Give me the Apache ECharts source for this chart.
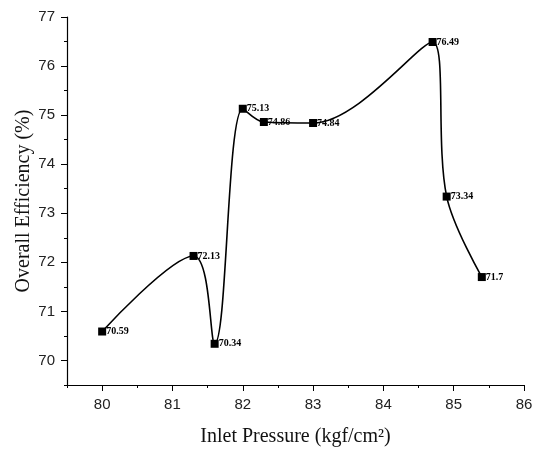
<!DOCTYPE html>
<html><head><meta charset="utf-8">
<script src="https://cdn.jsdelivr.net/npm/echarts@6/dist/echarts.min.js"></script>
<style>html,body{margin:0;padding:0;background:#fff}#c{width:538px;height:452px}</style>
</head><body><div id="c"></div>
<script>
const pressure = [80, 81.3, 81.6, 82, 82.3, 83, 84.7, 84.9, 85.4];
const efficiency = [70.59, 72.13, 70.34, 75.13, 74.86, 74.84, 76.49, 73.34, 71.7];
const xTicks = [80, 81, 82, 83, 84, 85, 86];
const yTicks = [70, 71, 72, 73, 74, 75, 76, 77];
const xName = 'Inlet Pressure (kgf/cm²)';
const yName = 'Overall Efficiency (%)';

const chart = echarts.init(document.getElementById('c'));
const axisLine = {show: true, lineStyle: {color: '#000', width: 1.2}};
chart.setOption({
  animation: false,
  grid: {left: 67, right: 14, top: 17, bottom: 66},
  xAxis: [{
    type: 'value', min: 79.5, max: 86, interval: 0.5,
    axisLine: axisLine,
    axisTick: {show: true, inside: false, length: 6, customValues: xTicks, lineStyle: {color: '#000'}},
    axisLabel: {customValues: xTicks, color: '#222', fontFamily: 'Liberation Sans', fontSize: 15, margin: 12},
    splitLine: {show: false},
    name: xName, nameLocation: 'middle', nameGap: 42,
    nameTextStyle: {fontFamily: 'Liberation Serif', fontSize: 20, color: '#111'}
  }, {
    type: 'value', min: 79.5, max: 86, interval: 0.5, position: 'bottom',
    axisLine: {show: false},
    axisTick: {show: true, length: 3, lineStyle: {color: '#000'}},
    axisLabel: {show: false}, splitLine: {show: false}
  }],
  yAxis: [{
    type: 'value', min: 69.5, max: 77, interval: 0.5,
    axisLine: axisLine,
    axisTick: {show: true, length: 6, customValues: yTicks, lineStyle: {color: '#000'}},
    axisLabel: {customValues: yTicks, color: '#222', fontFamily: 'Liberation Sans', fontSize: 15, margin: 12},
    splitLine: {show: false},
    name: yName, nameLocation: 'middle', nameGap: 33, nameMoveOverlap: false,
    nameTextStyle: {fontFamily: 'Liberation Serif', fontSize: 20, color: '#111'}
  }, {
    type: 'value', min: 69.5, max: 77, interval: 0.5, position: 'left',
    axisLine: {show: false},
    axisTick: {show: true, length: 3, lineStyle: {color: '#000'}},
    axisLabel: {show: false}, splitLine: {show: false}
  }],
  series: [{
    type: 'line', xAxisIndex: 0, yAxisIndex: 0,
    data: pressure.map((p, i) => [p, efficiency[i]]),
    smooth: 0.35,
    symbol: 'rect', symbolSize: 8,
    itemStyle: {color: '#000'},
    lineStyle: {color: '#000', width: 1.6},
    label: {
      show: true, position: 'right', distance: 0,
      formatter: p => String(p.value[1]),
      fontFamily: 'Liberation Serif', fontWeight: 'bold', fontSize: 10, color: '#000'
    }
  }]
});
</script></body></html>
